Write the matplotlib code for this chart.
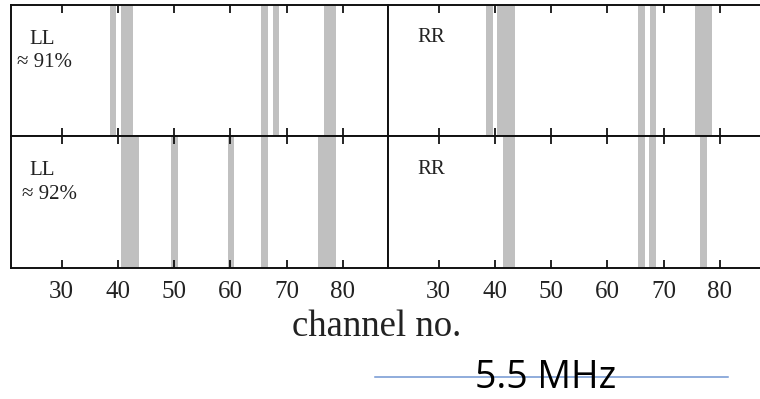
import matplotlib.pyplot as plt
from matplotlib.lines import Line2D

# flagged channel ranges (start, end) for each polarisation / run
ll_top_start = [38.6, 40.6, 65.5, 67.5, 76.6]
ll_top_end = [39.7, 42.7, 66.7, 68.7, 78.7]
rr_top_start = [38.4, 40.4, 65.5, 67.5, 75.5]
rr_top_end = [39.6, 43.5, 66.7, 68.7, 78.6]
ll_bot_start = [40.5, 49.5, 59.5, 65.5, 75.6]
ll_bot_end = [43.7, 50.7, 60.7, 66.7, 78.7]
rr_bot_start = [41.4, 65.5, 67.4, 76.5]
rr_bot_end = [43.6, 66.7, 68.7, 77.7]

panel_names = ["LL", "RR", "LL", "RR"]
panel_notes = ["\u2248 91%", "", "\u2248 92%", ""]
channel_ticks = [30, 40, 50, 60, 70, 80]

serif = "Liberation Serif"
band_color = "#c0c0c0"
text_color = "#222222"

fig = plt.figure(figsize=(7.6, 3.99), dpi=100)

W, H = 760.0, 399.0
def px_axes(x0, y0, x1, y1):
    return fig.add_axes([x0 / W, 1 - y1 / H, (x1 - x0) / W, (y1 - y0) / H])

axes = [
    px_axes(11, 5, 388, 136),
    px_axes(388, 5, 765, 136),
    px_axes(11, 136, 388, 268),
    px_axes(388, 136, 765, 268),
]
bands = [
    (ll_top_start, ll_top_end),
    (rr_top_start, rr_top_end),
    (ll_bot_start, ll_bot_end),
    (rr_bot_start, rr_bot_end),
]

for i, ax in enumerate(axes):
    starts, ends = bands[i]
    for s, e in zip(starts, ends):
        ax.axvspan(s, e, color=band_color, lw=0)
    ax.set_xlim(21, 88)
    ax.set_ylim(0, 1)
    ax.set_yticks([])
    ax.set_xticks(channel_ticks)
    ax.tick_params(axis="x", direction="in", top=True, bottom=True,
                   length=6, width=1.2, pad=9, labelsize=18,
                   labelcolor=text_color)
    for lab in ax.get_xticklabels():
        lab.set_fontfamily(serif)
    if i < 2:
        ax.tick_params(axis="x", labelbottom=False)
    for sp in ax.spines.values():
        sp.set_linewidth(1.4)
        sp.set_color("#111111")

    # polarisation label and fraction
    if panel_names[i] == "LL":
        ax.text(0.05, 0.735, panel_names[i], transform=ax.transAxes,
                fontfamily=serif, fontsize=15, color=text_color, va="center")
        ax.text(0.016 if i == 0 else 0.028, 0.56, panel_notes[i],
                transform=ax.transAxes, fontfamily=serif, fontsize=15,
                color=text_color, va="center")
    else:
        ax.text(0.077, 0.75, panel_names[i], transform=ax.transAxes,
                fontfamily=serif, fontsize=15, color=text_color, va="center")

fig.text(377 / W, 1 - 336 / H, "channel no.", ha="center", va="baseline",
         fontfamily=serif, fontsize=26.5, color=text_color)

# frequency caption with the rule behind it
fig.add_artist(Line2D([375 / W, 728 / W], [1 - 377 / H, 1 - 377 / H],
                      transform=fig.transFigure, color="#7196d2", lw=1.1))
fig.text(546 / W, 1 - 388 / H, "5.5 MHz", ha="center", va="baseline",
         fontfamily="Open Sans", fontsize=27, color="black")

fig.savefig("out.png", dpi=100)
